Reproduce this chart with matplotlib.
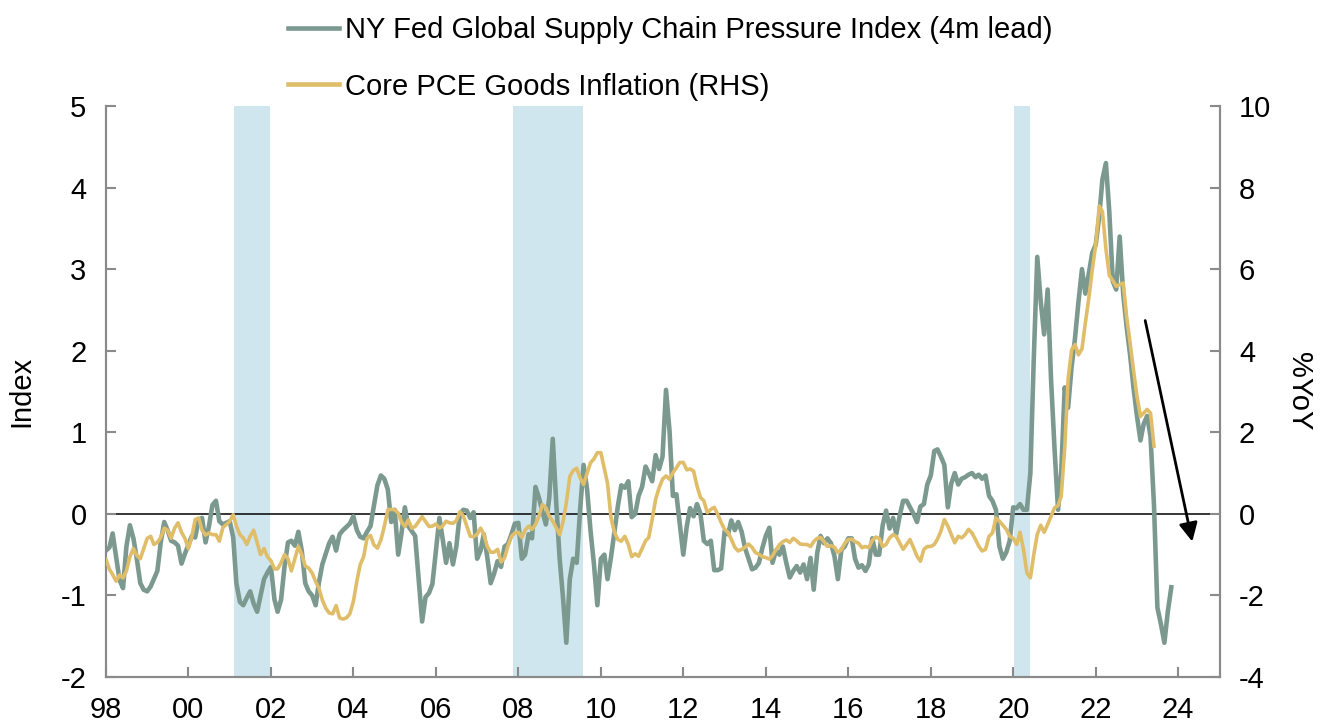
import matplotlib
matplotlib.use("Agg")
import matplotlib.pyplot as plt
import matplotlib.dates as mdates
from matplotlib.lines import Line2D
import pandas as pd

plt.rcParams['font.family'] = ['Liberation Sans', 'DejaVu Sans']
plt.rcParams['axes.unicode_minus'] = False

# ---------------- data (monthly, starting Jan 1998) ----------------
start_month = "1998-01-01"

gscpi_4m_lead = [
    # 1998
    -0.45, -0.41, -0.24, -0.53, -0.81, -0.91, -0.40, -0.14, -0.30, -0.55, -0.85, -0.93,
    # 1999
    -0.95, -0.89, -0.80, -0.70, -0.35, -0.10, -0.20, -0.33, -0.35, -0.39, -0.61, -0.49,
    # 2000
    -0.38, -0.27, -0.29, -0.07, -0.05, -0.35, -0.15, 0.11, 0.16, -0.09, -0.13, -0.11,
    # 2001
    -0.09, -0.29, -0.85, -1.08, -1.12, -1.03, -0.95, -1.10, -1.20, -1.00, -0.80, -0.72,
    # 2002
    -0.65, -1.05, -1.20, -1.05, -0.65, -0.35, -0.33, -0.39, -0.22, -0.45, -0.85, -0.95,
    # 2003
    -1.00, -1.12, -0.85, -0.62, -0.49, -0.36, -0.28, -0.45, -0.25, -0.20, -0.16, -0.12,
    # 2004
    -0.03, -0.20, -0.28, -0.30, -0.22, -0.15, 0.10, 0.35, 0.47, 0.43, 0.30, -0.10,
    # 2005
    0.05, -0.50, -0.25, 0.08, -0.15, -0.21, -0.27, -0.80, -1.32, -1.02, -0.97, -0.86,
    # 2006
    -0.45, -0.05, -0.30, -0.60, -0.36, -0.62, -0.40, 0.00, 0.05, 0.04, -0.05, 0.02,
    # 2007
    -0.55, -0.45, -0.25, -0.53, -0.85, -0.73, -0.58, -0.65, -0.40, -0.37, -0.25, -0.12,
    # 2008
    -0.11, -0.55, -0.50, -0.25, -0.30, 0.33, 0.20, 0.03, -0.13, 0.20, 0.92, 0.15,
    # 2009
    -0.55, -1.05, -1.58, -0.80, -0.55, -0.60, 0.05, 0.60, 0.30, -0.20, -0.62, -1.12,
    # 2010
    -0.55, -0.50, -0.80, -0.53, -0.22, 0.10, 0.35, 0.32, 0.40, -0.04, 0.00, 0.22,
    # 2011
    0.33, 0.58, 0.50, 0.40, 0.72, 0.55, 0.70, 1.52, 1.02, 0.22, 0.24, -0.12,
    # 2012
    -0.50, -0.15, 0.07, -0.03, 0.12, 0.00, -0.33, -0.37, -0.33, -0.69, -0.69, -0.67,
    # 2013
    -0.21, -0.25, -0.08, -0.20, -0.10, -0.22, -0.42, -0.55, -0.68, -0.66, -0.60, -0.42,
    # 2014
    -0.27, -0.17, -0.60, -0.45, -0.50, -0.40, -0.60, -0.78, -0.70, -0.64, -0.72, -0.62,
    # 2015
    -0.80, -0.54, -0.93, -0.48, -0.27, -0.36, -0.30, -0.36, -0.52, -0.80, -0.44, -0.40,
    # 2016
    -0.30, -0.30, -0.55, -0.66, -0.63, -0.70, -0.62, -0.30, -0.50, -0.50, -0.14, 0.04,
    # 2017
    -0.18, -0.05, -0.25, -0.02, 0.16, 0.16, 0.08, 0.00, -0.10, 0.09, 0.12, 0.36,
    # 2018
    0.47, 0.77, 0.79, 0.70, 0.60, 0.08, 0.37, 0.50, 0.36, 0.43, 0.45, 0.48,
    # 2019
    0.50, 0.45, 0.48, 0.43, 0.47, 0.22, 0.16, 0.05, -0.40, -0.55, -0.47, -0.33,
    # 2020
    0.08, 0.07, 0.12, 0.05, 0.05, 0.50, 1.90, 3.15, 2.60, 2.20, 2.75, 1.65,
    # 2021
    0.80, 0.05, 0.50, 1.55, 1.30, 1.80, 2.15, 2.60, 3.00, 2.70, 2.95, 3.20,
    # 2022
    3.30, 3.65, 4.10, 4.30, 3.70, 2.85, 2.75, 3.40, 2.70, 2.30, 1.95, 1.55,
    # 2023
    1.20, 0.90, 1.10, 1.20, 0.95, 0.10, -1.15, -1.35, -1.58, -1.20, -0.90,
]

core_pce_goods = [
    # 1998
    -1.12, -1.36, -1.49, -1.65, -1.50, -1.57, -1.40, -1.05, -0.85, -1.02, -1.10, -0.85,
    # 1999
    -0.60, -0.55, -0.75, -0.70, -0.58, -0.35, -0.40, -0.60, -0.35, -0.22, -0.45, -0.60,
    # 2000
    -0.85, -0.55, -0.14, -0.10, -0.40, -0.52, -0.47, -0.51, -0.51, -0.67, -0.34, -0.26,
    # 2001
    -0.18, -0.02, -0.30, -0.51, -0.59, -0.75, -0.55, -0.40, -0.71, -1.00, -0.85, -1.05,
    # 2002
    -1.15, -1.35, -1.35, -1.20, -1.00, -1.10, -1.40, -1.10, -0.80, -1.00, -1.28, -1.33,
    # 2003
    -1.45, -1.66, -1.82, -2.11, -2.31, -2.43, -2.45, -2.25, -2.55, -2.58, -2.55, -2.45,
    # 2004
    -2.15, -1.65, -1.25, -1.05, -0.60, -0.53, -0.76, -0.84, -0.64, -0.31, 0.10, 0.11,
    # 2005
    0.10, 0.02, -0.19, -0.31, -0.15, -0.35, -0.31, -0.19, -0.07, -0.19, -0.31, -0.30,
    # 2006
    -0.25, -0.35, -0.30, -0.18, -0.22, -0.23, -0.17, 0.05, -0.05, -0.30, -0.55, -0.56,
    # 2007
    -0.50, -0.35, -0.50, -0.80, -0.94, -0.94, -0.87, -1.18, -1.08, -0.79, -0.55, -0.47,
    # 2008
    -0.45, -0.58, -0.40, -0.30, -0.38, -0.26, -0.06, 0.23, 0.15, -0.06, -0.18, -0.34,
    # 2009
    -0.51, -0.18, 0.27, 0.92, 1.06, 1.12, 0.88, 0.72, 1.00, 1.25, 1.35, 1.50,
    # 2010
    1.50, 1.10, 0.75, -0.10, -0.45, -0.63, -0.67, -0.55, -0.75, -1.05, -0.98, -1.04,
    # 2011
    -0.85, -0.66, -0.58, -0.13, 0.36, 0.64, 0.85, 0.93, 0.85, 1.01, 1.13, 1.26,
    # 2012
    1.26, 1.08, 1.10, 1.05, 0.69, 0.40, 0.32, 0.03, 0.11, 0.16, -0.01, -0.21,
    # 2013
    -0.38, -0.46, -0.62, -0.82, -0.91, -0.87, -0.82, -0.74, -0.82, -0.95, -0.99, -1.05,
    # 2014
    -1.07, -1.11, -1.03, -0.88, -0.76, -0.68, -0.64, -0.70, -0.60, -0.66, -0.74, -0.75,
    # 2015
    -0.75, -0.80, -0.68, -0.60, -0.58, -0.68, -0.80, -0.78, -0.82, -0.95, -0.88, -0.72,
    # 2016
    -0.63, -0.62, -0.68, -0.72, -0.83, -0.80, -0.83, -0.65, -0.57, -0.60, -0.80, -0.75,
    # 2017
    -0.59, -0.51, -0.55, -0.71, -0.87, -0.75, -0.63, -0.83, -1.04, -1.16, -0.87, -0.80,
    # 2018
    -0.80, -0.75, -0.62, -0.42, -0.14, -0.30, -0.50, -0.71, -0.55, -0.59, -0.51, -0.38,
    # 2019
    -0.47, -0.63, -0.79, -0.91, -0.87, -0.55, -0.47, -0.10, -0.18, -0.28, -0.38, -0.55,
    # 2020
    -0.60, -0.75, -0.45, -0.87, -1.45, -1.57, -1.00, -0.50, -0.28, -0.45, -0.26, -0.06,
    # 2021
    0.15, 0.20, 0.43, 1.60, 3.30, 4.02, 4.15, 3.90, 4.05, 4.68, 5.30, 5.98,
    # 2022
    6.60, 7.55, 7.41, 6.50, 5.85, 5.72, 5.58, 5.62, 5.66, 4.84, 4.19, 3.53,
    # 2023
    2.88, 2.39, 2.47, 2.56, 2.47, 1.66,
]

recession_starts = ["2001-02-10", "2007-11-14", "2020-01-12"]
recession_ends = ["2001-12-25", "2009-07-27", "2020-05-28"]

series_labels = ["NY Fed Global Supply Chain Pressure Index (4m lead)",
                 "Core PCE Goods Inflation (RHS)"]
left_ticks = [-2, -1, 0, 1, 2, 3, 4, 5]
right_ticks = [-4, -2, 0, 2, 4, 6, 8, 10]

# ---------------- styling ----------------
GRAY = "#7B998F"
GOLD = "#E0BD68"
SHADE = "#CFE6EE"
SPINE = "#8A8A8A"
FS = 21

gs_dates = pd.date_range(start_month, periods=len(gscpi_4m_lead), freq="MS")
pce_dates = pd.date_range(start_month, periods=len(core_pce_goods), freq="MS")

fig = plt.figure(figsize=(13.28, 7.25), dpi=100)
ax = fig.add_axes([0.0798, 0.0662, 0.8385, 0.7876])
ax2 = ax.twinx()

for s, e in zip(recession_starts, recession_ends):
    ax.axvspan(pd.Timestamp(s), pd.Timestamp(e), color=SHADE, lw=0, zorder=0)

ax.axhline(0, color="black", lw=1.1, zorder=1)
ax.plot(gs_dates, gscpi_4m_lead, color=GRAY, lw=3.3, zorder=2, solid_joinstyle="round")
ax2.plot(pce_dates, core_pce_goods, color=GOLD, lw=2.6, zorder=3, solid_joinstyle="round")

ax.set_xlim(pd.Timestamp("1998-01-01"), pd.Timestamp("2025-01-01"))
ax.set_ylim(-2, 5)
ax2.set_ylim(-4, 10)
ax.set_yticks(left_ticks)
ax2.set_yticks(right_ticks)
ax.xaxis.set_major_locator(mdates.YearLocator(2))
ax.xaxis.set_major_formatter(mdates.DateFormatter("%y"))

for a in (ax, ax2):
    a.spines["top"].set_visible(False)
    for sp in ("left", "right", "bottom"):
        a.spines[sp].set_color(SPINE)
        a.spines[sp].set_linewidth(1.5)
    a.tick_params(axis="both", direction="in", length=7, width=1.5,
                  color=SPINE, labelsize=FS, pad=14, labelcolor="black")

ax.set_ylabel("Index", fontsize=FS, labelpad=18)
ax2.set_ylabel("%YoY", fontsize=FS, rotation=270, labelpad=30)

# annotation arrow
ax.annotate("", xy=(pd.Timestamp("2024-05-05"), -0.34),
            xytext=(pd.Timestamp("2023-03-15"), 2.37),
            arrowprops=dict(arrowstyle="-|>", color="black", lw=2.0,
                            mutation_scale=28, shrinkA=0, shrinkB=0),
            zorder=5)

handles = [Line2D([], [], color=GRAY, lw=3.3), Line2D([], [], color=GOLD, lw=3.3)]
fig.legend(handles, series_labels, loc="upper left",
           bbox_to_anchor=(0.2169, 0.978), frameon=False, fontsize=FS,
           handlelength=1.75, handletextpad=0.2, labelspacing=0.98,
           borderpad=0, borderaxespad=0)

fig.savefig("out.png", dpi=100)
